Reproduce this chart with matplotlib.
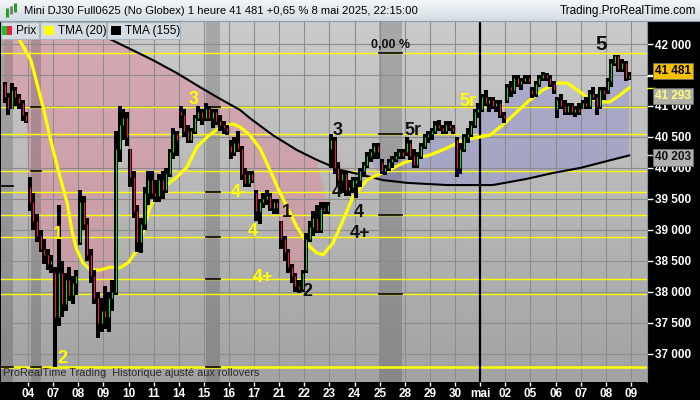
import numpy as np
import matplotlib.pyplot as plt
from matplotlib.colors import LinearSegmentedColormap
from matplotlib.transforms import blended_transform_factory
import matplotlib.patches as mpatches

plt.rcParams['font.family'] = ['Liberation Sans', 'DejaVu Sans']

# one trading day = 7 hourly bars, day 0 = 3 avril
day_labels = ['04', '07', '08', '09', '10', '11', '14', '15', '16', '17', '21', '22', '23',
              '24', '25', '28', '29', '30', 'mai', '02', '05', '06', '07', '08', '09']

opens = [
    41350, 41150, 40950, 41250, 41150, 41050, 40850,   # 03
    39700, 39450, 39150, 38900, 38700, 38600, 38450,   # 04
    38300, 37600, 38300, 37800, 38200, 37950, 38150,   # 07
    38800, 39450, 39100, 38600, 38250, 37900, 37500,   # 08
    37700, 37600, 37900, 38000, 40300, 40700, 40800,   # 09
    40300, 39850, 39300, 38800, 39100, 39600, 39800,   # 10
    39600, 39550, 39800, 39650, 39900, 40250, 40550,   # 11
    40900, 40850, 40600, 40450, 40600, 40800, 40900,   # 14
    40800, 40950, 40800, 40900, 40750, 40700, 40650,   # 15
    40350, 40250, 40400, 40300, 39900, 39750, 39900,   # 16
    39600, 39300, 39450, 39500, 39550, 39350, 39450,   # 17
    39150, 38850, 38650, 38400, 38250, 38100, 38050,   # 21
    38350, 38850, 39050, 39200, 39000, 39350, 39300,   # 22
    40300, 40450, 40000, 39800, 39900, 39650, 39700,   # 23
    39750, 39800, 39950, 40050, 40200, 40250, 40350,   # 24
    40100, 39950, 40000, 40100, 40150, 40200, 40250,   # 25
    40250, 40400, 40200, 40050, 40200, 40350, 40500,   # 28
    40550, 40600, 40700, 40650, 40600, 40700, 40650,   # 29
    40450, 40000, 40300, 40500, 40550, 40700, 40900,   # 30
    40950, 41150, 41050, 41100, 41000, 41050, 40850,   # 01 mai
    41100, 41300, 41250, 41450, 41350, 41400, 41450,   # 02
    41250, 41200, 41350, 41450, 41500, 41450, 41350,   # 05
    40950, 41100, 41000, 40900, 41000, 40900, 40950,   # 06
    40950, 41050, 41000, 41200, 41150, 41000, 41250,   # 07
    41250, 41400, 41700, 41800, 41600, 41700, 41450,   # 08
]
highs = [
    41390, 41210, 41370, 41300, 41200, 41100, 40900,
    39850, 39600, 39250, 39000, 38850, 38700, 38600,
    38400, 39400, 38500, 38300, 38400, 38250, 38350,
    39650, 39550, 39200, 38700, 38350, 38000, 37900,
    38100, 38000, 38200, 40600, 41000, 40950, 40900,
    40300, 39950, 39400, 39200, 39700, 39950, 39950,
    39800, 39900, 39950, 40000, 40300, 40650, 40600,
    41000, 40950, 40700, 40650, 40850, 41000, 40950,
    41050, 41000, 40950, 40950, 40850, 40750, 40700,
    40450, 40500, 40600, 40350, 40000, 39950, 39950,
    39650, 39500, 39600, 39650, 39600, 39500, 39500,
    39150, 38900, 38700, 38450, 38300, 38200, 38350,
    38950, 39150, 39300, 39400, 39450, 39450, 39450,
    40550, 40500, 40100, 39950, 39950, 39800, 39850,
    39850, 40000, 40100, 40250, 40300, 40400, 40400,
    40150, 40050, 40150, 40200, 40250, 40300, 40300,
    40500, 40450, 40300, 40250, 40400, 40550, 40600,
    40650, 40750, 40780, 40700, 40750, 40750, 40700,
    40500, 40400, 40550, 40650, 40750, 40950, 41050,
    41200, 41250, 41150, 41150, 41100, 41100, 40900,
    41350, 41400, 41500, 41500, 41450, 41500, 41500,
    41300, 41400, 41500, 41550, 41530, 41500, 41400,
    41150, 41200, 41100, 41050, 41050, 41000, 41050,
    41100, 41150, 41250, 41300, 41200, 41300, 41300,
    41450, 41750, 41830, 41820, 41750, 41720, 41550,
]
lows = [
    41050, 40860, 40950, 41000, 40950, 40750, 40720,
    39300, 39000, 38800, 38650, 38450, 38350, 38300,
    36790, 37450, 37600, 37700, 37850, 37800, 37950,
    38750, 39000, 38500, 38150, 37800, 37250, 37350,
    37400, 37350, 37700, 37950, 40100, 40450, 40350,
    39700, 39200, 38650, 38630, 39000, 39400, 39500,
    39450, 39450, 39500, 39600, 39850, 40150, 40200,
    40650, 40500, 40400, 40400, 40550, 40750, 40700,
    40750, 40750, 40650, 40700, 40600, 40550, 40530,
    40150, 40200, 40250, 39800, 39700, 39700, 39750,
    39150, 39100, 39350, 39400, 39300, 39250, 39250,
    38700, 38500, 38300, 38150, 38000, 37980, 38000,
    38300, 38800, 38900, 38950, 38950, 39250, 39250,
    40000, 39900, 39700, 39600, 39550, 39550, 39600,
    39520, 39700, 39850, 40000, 40100, 40150, 40150,
    39900, 39880, 39950, 40000, 40100, 40150, 40150,
    40200, 40130, 40000, 40000, 40150, 40300, 40400,
    40450, 40550, 40600, 40550, 40550, 40600, 40550,
    39850, 39900, 40250, 40400, 40500, 40650, 40800,
    40900, 41000, 40900, 40950, 40900, 40800, 40730,
    41050, 41150, 41200, 41300, 41250, 41350, 41350,
    41130, 41150, 41300, 41400, 41400, 41300, 41200,
    40800, 40950, 40850, 40850, 40850, 40830, 40850,
    40950, 40950, 40950, 41100, 40850, 40950, 41100,
    41200, 41300, 41650, 41550, 41550, 41400, 41420,
]
closes = [
    41150, 40950, 41250, 41150, 41050, 40850, 40750,
    39450, 39150, 38900, 38700, 38600, 38450, 38500,
    37600, 38300, 37800, 38200, 37950, 38150, 38250,
    39450, 39100, 38600, 38250, 37900, 37500, 37700,
    37600, 37900, 38000, 40300, 40700, 40800, 40500,
    39850, 39300, 38800, 39100, 39600, 39800, 39600,
    39550, 39800, 39650, 39900, 40250, 40550, 40450,
    40850, 40600, 40450, 40600, 40800, 40900, 40800,
    40950, 40800, 40900, 40750, 40700, 40650, 40600,
    40250, 40400, 40300, 39900, 39750, 39900, 39800,
    39300, 39450, 39500, 39550, 39350, 39450, 39350,
    38850, 38650, 38400, 38250, 38100, 38050, 38300,
    38850, 39050, 39200, 39000, 39350, 39300, 39400,
    40450, 40000, 39800, 39900, 39650, 39700, 39800,
    39800, 39950, 40050, 40200, 40250, 40350, 40250,
    39950, 40000, 40100, 40150, 40200, 40250, 40200,
    40400, 40200, 40050, 40200, 40350, 40500, 40550,
    40600, 40700, 40650, 40600, 40700, 40650, 40600,
    40000, 40300, 40500, 40550, 40700, 40900, 40950,
    41150, 41050, 41100, 41000, 41050, 40850, 40800,
    41300, 41250, 41450, 41350, 41400, 41450, 41400,
    41200, 41350, 41450, 41500, 41450, 41350, 41250,
    41100, 41000, 40900, 41000, 40900, 40950, 40900,
    41050, 41000, 41200, 41150, 41000, 41250, 41200,
    41400, 41700, 41800, 41600, 41700, 41450, 41481,
]

# TMA values (bar position, price)
tma20_x = [0, 4.2, 7.8, 11.2, 13.1, 15.4, 17.9, 19.3, 20.6, 22.3, 24.3, 27.1, 29.8, 32.6,
           34.9, 37.4, 39.0, 41.0, 43.8, 48.5, 51.3, 54.1, 56.9, 60.5, 64.1, 66.1, 68.8,
           71.6, 74.4, 77.2, 80.0, 81.9, 84.2, 85.6, 87.5, 89.2, 92.0, 94.8, 97.5, 101.4,
           104.2, 107.8, 111.5, 115.4, 119.0, 123.7, 128.2, 132.9, 135.7, 139.3, 143.2,
           146.8, 150.5, 154.4, 157.2, 160.0, 162.7, 166.4, 169.1, 171.9, 174.5]
tma20_y = [42580, 42110, 41740, 40980, 40500, 39970, 39435, 38970, 38680, 38470, 38355,
           38355, 38400, 38390, 38470, 38680, 38950, 39370, 39645, 39855, 40015, 40340,
           40500, 40660, 40710, 40660, 40530, 40320, 39970, 39600, 39275, 39050, 38840,
           38725, 38630, 38600, 38790, 39160, 39530, 39805, 39885, 39970, 40080, 40160,
           40210, 40320, 40450, 40500, 40530, 40695, 40905, 41095, 41260, 41370, 41370,
           41260, 41145, 41065, 41065, 41175, 41293]
tma155_x = [0, 29.8, 41.8, 48.5, 54.9, 59.6, 66.1, 68.8, 75.2, 81.9, 87.5, 93.9, 100.3,
            105.9, 112.6, 119.0, 123.7, 127.3, 136.5, 141.3, 146.0, 153.3, 160.8, 167.2,
            174.5]
tma155_y = [42920, 42080, 41740, 41530, 41305, 41145, 40935, 40805, 40530, 40290, 40130,
            39970, 39885, 39805, 39760, 39740, 39725, 39725, 39725, 39775, 39825, 39920,
            40000, 40095, 40203]

levels = [41855, 40984, 40548, 39952, 39613, 39242, 38887, 38210, 37968, 36790]
bands = [(-0.6, 2.8), (7.8, 10.6), (56.6, 60.5), (104.8, 111.2)]
band_marks = {0: [39710, 36790], 1: [40984, 39952, 36790],
              2: [40984, 39613, 38887, 38210, 36790], 3: [41855, 40548, 39242, 37968]}

wave_yellow = [('1', 15.4, 38920), ('2', 16.5, 36930), ('3', 53.2, 41100), ('4-', 65.8, 39610),
               ('4', 69.7, 38970), ('4+', 72.5, 38230), ('5r', 129.6, 41065)]
wave_black = [('3', 93.4, 40600), ('1', 79.2, 39290), ('2', 84.7, 38000), ('4', 93.1, 39610),
              ('4', 99.2, 39290), ('4+', 99.5, 38950), ('5r', 114.3, 40600), ('5', 166.6, 41985)]

last_price = 41481

xs = np.arange(len(closes)) + 0.5
o = np.array(opens); h = np.array(highs); l = np.array(lows); c = np.array(closes)

fig = plt.figure(figsize=(7, 4), dpi=100, facecolor='black')
ax = fig.add_axes([1 / 700, 18 / 400, 646 / 700, 361 / 400])
x0, x1 = -0.53, 179.47
y0, y1 = 36548, 42371
ax.set_xlim(x0, x1)
ax.set_ylim(y0, y1)

bg = LinearSegmentedColormap.from_list('bg', ['#cbcbcb', '#a3a3a3'])
ax.imshow(np.linspace(0, 1, 256).reshape(-1, 1), cmap=bg, extent=[x0, x1, y0, y1],
          aspect='auto', origin='upper', zorder=0)

# fill price vs TMA(155)
n1 = 91
px_ = list(xs[:n1]) + [x for x in reversed(tma155_x) if x <= xs[n1 - 1]]
py_ = list(c[:n1]) + [y for x, y in zip(reversed(tma155_x), reversed(tma155_y)) if x <= xs[n1 - 1]]
ax.fill(px_, py_, color='#e08a9c', alpha=0.5, lw=0, zorder=1)
n2 = 101
px_ = list(xs[n2:]) + [x for x in reversed(tma155_x) if x >= xs[n2]]
py_ = list(c[n2:]) + [y for x, y in zip(reversed(tma155_x), reversed(tma155_y)) if x >= xs[n2]]
ax.fill(px_, py_, color='#9191cd', alpha=0.5, lw=0, zorder=1)

for a, b in bands:
    ax.axvspan(a, b, color='black', alpha=0.17, lw=0, zorder=1.5)

for d in range(1, 26):
    ax.axvline(7 * d, color='#8c8c8c', lw=0.8, zorder=1.8)
for v in range(37000, 42001, 500):
    ax.axhline(v, color='#8c8c8c', lw=0.8, zorder=1.8)

for v in levels:
    ax.axhline(v, color='#ffff00', lw=1.8 if v == levels[-1] else 1.0, zorder=3)
for k, vals in band_marks.items():
    a, b = bands[k]
    for v in vals:
        ax.plot([a, b], [v, v], color='black', lw=1.2, zorder=3.2)

ax.axvline(133, color='black', lw=1.6, zorder=3.5)

ax.plot(tma155_x, tma155_y, color='black', lw=1.5, zorder=4)
ax.plot(tma20_x, tma20_y, color='#ffff00', lw=2.3, zorder=4.2, solid_capstyle='round')

cols = np.where(c >= o, '#22d022', '#ee1c3c')
ax.vlines(xs, l, h, color='black', lw=2.9, zorder=5)
ax.vlines(xs, np.minimum(o, c), np.maximum(o, c), colors=cols, lw=0.8, zorder=6)

for t, x, y in wave_yellow:
    ax.text(x, y, t, color='#ffff00', fontsize=13, fontweight='bold', ha='center', va='center', zorder=7)
for t, x, y in wave_black:
    ax.text(x, y, t, color='#111111', fontsize=15 if t == '5' else 13, fontweight='bold',
            ha='center', va='center', zorder=7)
ax.text(108, 41990, '0,00 %', color='#111111', fontsize=9, fontweight='bold', ha='center',
        va='center', zorder=7)
ax.text(0.003, 0.01, 'ProRealTime Trading  Historique ajusté aux rollovers', transform=ax.transAxes,
        color='#2a2a2a', fontsize=7.8, ha='left', va='bottom', zorder=7)

# price scale; the 41 500 label sits under the last-price tag, so it is left blank
yt = list(range(37000, 42001, 500))
ax.yaxis.tick_right()
ax.set_yticks(yt)
ax.set_yticklabels(['' if v == 41500 else f'{v:,}'.replace(',', ' ') for v in yt])
ax.tick_params(axis='y', colors='white', labelsize=8.5, length=4, width=1, pad=2)
ax.set_xticks([7 * d for d in range(1, 26)])
ax.set_xticklabels(day_labels)
ax.tick_params(axis='x', colors='white', labelsize=8.5, length=3, width=1, pad=1.5)
for lbl in ax.get_xticklabels() + ax.get_yticklabels():
    lbl.set_fontweight('bold')
for s in ['top', 'left', 'bottom']:
    ax.spines[s].set_visible(False)
ax.spines['right'].set_color('#8a949c')

# value tags on the price scale, nudged apart like the platform does (points)
tr = blended_transform_factory(ax.transAxes, ax.transData)
tags = [(last_price, 3.7, '#f5c000', '#000000', 'white'),
        (tma20_y[-1], -5.9, '#aeaea6', '#ffff80', '#ffff00'),
        (tma155_y[-1], -1.5, '#b0b0b0', '#111111', '#d0d0d0')]
for v, dy, fc, tc, stub in tags:
    ax.plot([1.0, 1.012], [v, v], transform=tr, color=stub, lw=1, clip_on=False, zorder=19)
    ax.annotate(f'{v:,}'.replace(',', ' '), xy=(1.012, v), xycoords=tr, xytext=(0, dy),
                textcoords='offset points', ha='left', va='center', fontsize=8.5,
                fontweight='bold', color=tc, annotation_clip=False, zorder=20,
                bbox=dict(boxstyle='square,pad=0.18', fc=fc, ec='#707070', lw=0.6))

# title bar and legend overlay (pixel coordinates)
ov = fig.add_axes([0, 0, 1, 1], zorder=10)
ov.axis('off')
ov.patch.set_alpha(0)
tb = LinearSegmentedColormap.from_list('tb', ['#f2f6f8', '#d3dde3'])
ov.imshow(np.linspace(0, 1, 64).reshape(-1, 1), cmap=tb, extent=[0, 700, 21, 0], aspect='auto')
ov.plot([0, 700], [21, 21], color='#8a9aa6', lw=0.8)
ov.set_xlim(0, 700)
ov.set_ylim(400, 0)
ov.vlines([7, 11, 15], [8, 6, 3], [17, 14, 12], colors=['#22a022', '#808080', '#22a022'], lw=2.2)
ov.text(24, 11, 'Mini DJ30 Full0625 (No Globex) 1 heure 41 481 +0,65 % 8 mai 2025, 22:15:00',
        fontsize=8.1, color='black', va='center', ha='left')
ov.text(696, 11, 'Trading.ProRealTime.com', fontsize=8.5, color='black', va='center', ha='right')

for bx0, bx1 in [(1, 39), (40, 106), (107, 180)]:
    ov.add_patch(mpatches.Rectangle((bx0, 22), bx1 - bx0, 17, fc='#d6dde2', ec='#a8b2ba', lw=0.8))
ov.add_patch(mpatches.Rectangle((2, 26), 5, 9, fc='#22c022', lw=0))
ov.add_patch(mpatches.Rectangle((7, 26), 5, 9, fc='#ee1c3c', lw=0))
ov.text(16, 31, 'Prix', fontsize=8.5, va='center')
ov.add_patch(mpatches.Rectangle((44, 26), 10, 9, fc='#ffff00', lw=0))
ov.text(58, 31, 'TMA (20)', fontsize=8.5, va='center')
ov.add_patch(mpatches.Rectangle((111, 26), 10, 9, fc='black', lw=0))
ov.text(125, 31, 'TMA (155)', fontsize=8.5, va='center')

fig.savefig('out.png', dpi=100, facecolor='black')
